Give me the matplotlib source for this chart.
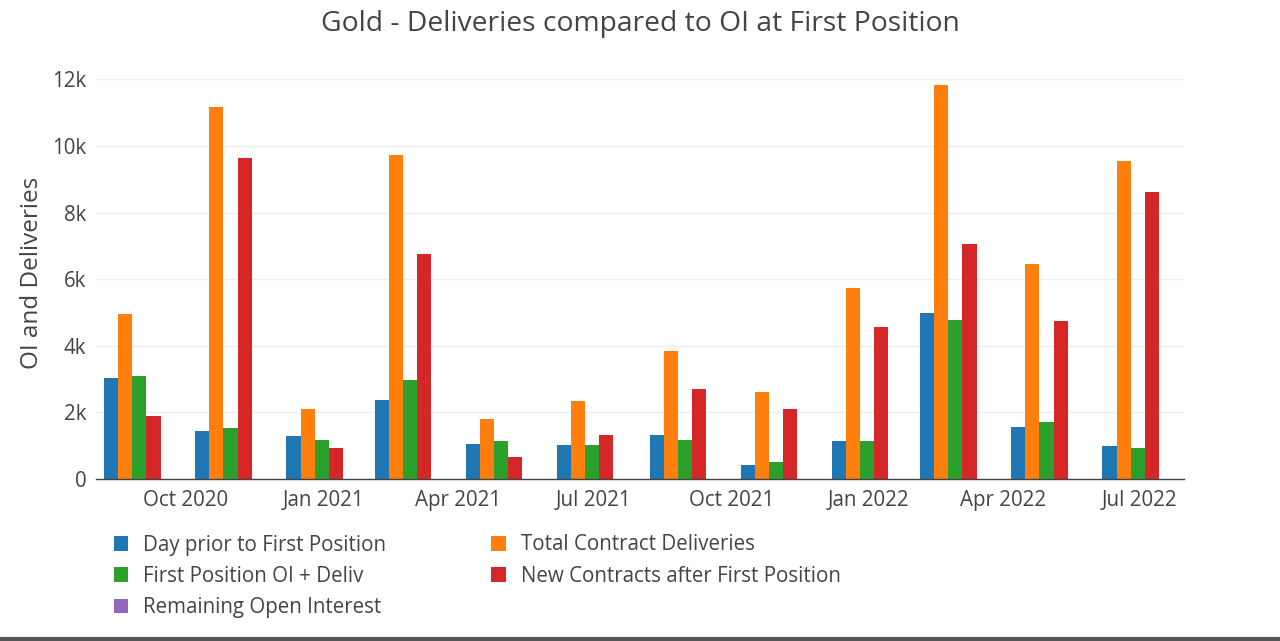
import matplotlib
matplotlib.use("Agg")
import matplotlib.pyplot as plt
import matplotlib.dates as mdates
from matplotlib.lines import Line2D
from matplotlib.patches import Patch
from matplotlib.ticker import FuncFormatter
import numpy as np
import pandas as pd

# first-position dates (end of the month before each delivery month)
dates = pd.to_datetime([
    "2020-08-31", "2020-10-31", "2020-12-31", "2021-02-28",
    "2021-04-30", "2021-06-30", "2021-08-31", "2021-10-31",
    "2021-12-31", "2022-02-28", "2022-04-30", "2022-06-30",
])

day_prior = [3040, 1440, 1280, 2370, 1060, 1010, 1310, 430, 1140, 4990, 1570, 1000]
total_deliv = [4940, 11170, 2090, 9720, 1790, 2350, 3830, 2600, 5730, 11840, 6470, 9540]
first_pos = [3080, 1540, 1180, 2960, 1140, 1010, 1160, 500, 1140, 4770, 1720, 940]
new_contracts = [1880, 9630, 920, 6770, 650, 1320, 2690, 2090, 4570, 7060, 4750, 8610]
remaining_oi = [0, 0, 0, 0, 0, 0, 0, 0, 0, 0, 0, 0]

series = [
    ("Day prior to First Position", day_prior, "#1f77b4"),
    ("Total Contract Deliveries", total_deliv, "#ff7f0e"),
    ("First Position OI + Deliv", first_pos, "#2ca02c"),
    ("New Contracts after First Position", new_contracts, "#d62728"),
    ("Remaining Open Interest", remaining_oi, "#9467bd"),
]

plt.rcParams['font.family'] = ['Open Sans', 'DejaVu Sans']
text_color = "#444444"

fig = plt.figure(figsize=(12.8, 6.41), dpi=100)
ax = fig.add_axes([96 / 1280, 1 - 479 / 641, (1184 - 96) / 1280, 413 / 641])

x = mdates.date2num(dates)
slot = 59 * 0.8 / len(series)  # bar width in days, plotly-style grouping
handles = {}
for i, (name, vals, color) in enumerate(series):
    offs = (i - (len(series) - 1) / 2) * slot
    ax.bar(x + offs, vals, width=slot, color=color, linewidth=0, zorder=3)
    handles[name] = Patch(facecolor=color, edgecolor="none", label=name)

ax.set_xlim(mdates.date2num(pd.Timestamp("2020-08-02")),
            mdates.date2num(pd.Timestamp("2022-07-31")))
ax.set_ylim(0, 12400)
ax.set_yticks(np.arange(0, 12001, 2000))
ax.yaxis.set_major_formatter(FuncFormatter(lambda v, p: "0" if v == 0 else f"{int(v / 1000)}k"))
ax.xaxis.set_major_locator(mdates.MonthLocator(bymonth=[1, 4, 7, 10]))
ax.xaxis.set_major_formatter(mdates.DateFormatter("%b %Y"))

ax.grid(axis="y", color="#eeeeee", linewidth=1, zorder=0)
for s in ["top", "right", "left"]:
    ax.spines[s].set_visible(False)
ax.spines["bottom"].set_color(text_color)
ax.spines["bottom"].set_linewidth(1)
ax.spines["bottom"].set_zorder(4)
ax.tick_params(axis="both", length=0, labelsize=14.8, labelcolor=text_color)
ax.tick_params(axis="x", pad=8)
ax.tick_params(axis="y", pad=7)

ax.set_ylabel("OI and Deliveries", fontsize=17.5, color=text_color, labelpad=6)
fig.text(0.5, 1 - 24 / 641, "Gold - Deliveries compared to OI at First Position",
         ha="center", va="center", fontsize=20.3, color=text_color)

order = ["Day prior to First Position", "First Position OI + Deliv", "Remaining Open Interest",
         "Total Contract Deliveries", "New Contracts after First Position"]
fig.legend([handles[n] for n in order], order, loc="upper left",
           bbox_to_anchor=(95 / 1280, 1 - 516 / 641), ncol=2, frameon=False,
           fontsize=14.8, labelcolor=text_color, handlelength=0.72, handleheight=0.72,
           handletextpad=0.72, columnspacing=5.1, labelspacing=0.5)

fig.add_artist(Line2D([0, 1], [2 / 641, 2 / 641], color="#555555", linewidth=3,
                      transform=fig.transFigure))

fig.savefig("out.png", dpi=100, facecolor="white")
